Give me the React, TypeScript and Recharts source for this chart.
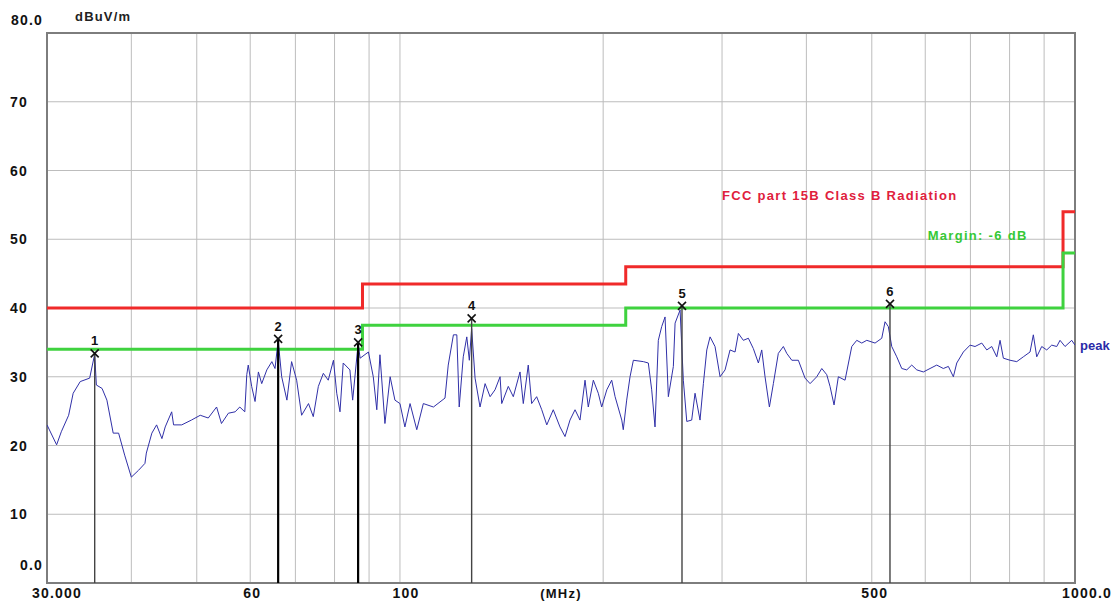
import React from 'react';
import {
  ComposedChart,
  Line,
  XAxis,
  YAxis,
  CartesianGrid,
  ReferenceLine,
  ReferenceDot,
  ReferenceArea,
} from 'recharts';

// measured trace (MHz / dBuV/m)
const traceFreq = [
  30.0, 31.0, 31.5, 32.3, 32.8, 33.6, 34.7, 35.3, 35.5, 36.2, 36.8, 37.6, 38.3, 39.1, 40.0, 41.0,
  41.9, 42.1, 42.9, 43.6, 44.4, 44.9, 45.9, 46.2, 47.5, 49.1, 50.6, 52.0, 53.5, 54.4, 55.7, 57.0,
  57.9, 58.9, 59.3, 59.6, 60.3, 61.0, 61.7, 62.4, 63.5, 64.6, 65.3, 66.0, 66.8, 68.0, 69.1, 70.3,
  71.5, 73.2, 74.4, 75.7, 77.0, 78.3, 79.7, 80.6, 81.5, 82.4, 84.3, 85.1, 86.7, 87.3, 89.8, 91.3,
  92.4, 93.4, 95.0, 96.7, 98.3, 100.0, 101.7, 103.5, 105.9, 108.3, 112.1, 116.6, 117.9, 120.0,
  121.4, 122.4, 124.1, 125.6, 126.7, 127.7, 129.2, 131.4, 133.7, 136.0, 138.3, 140.7, 141.5,
  144.7, 147.2, 150.6, 152.3, 154.9, 156.7, 159.4, 162.2, 165.0, 168.7, 172.6, 175.6, 178.6,
  181.7, 184.8, 188.0, 190.1, 193.4, 196.7, 199.0, 202.5, 205.9, 208.3, 213.1, 214.2, 216.7,
  219.2, 221.7, 229.4, 233.3, 236.0, 238.7, 241.4, 244.2, 247.0, 249.8, 254.1, 255.6, 260.0,
  262.9, 266.0, 270.5, 273.6, 278.3, 281.5, 284.8, 288.0, 292.9, 298.0, 303.1, 308.3, 313.6,
  317.2, 322.6, 328.2, 333.8, 339.6, 343.5, 347.4, 352.6, 357.4, 363.5, 369.8, 374.1, 380.6,
  389.2, 398.2, 405.1, 414.4, 421.6, 428.8, 433.6, 439.6, 446.1, 456.4, 467.0, 475.0, 483.2,
  491.5, 505.6, 517.3, 523.1, 529.0, 535.2, 544.4, 553.8, 563.3, 573.0, 582.9, 596.2, 609.9,
  624.0, 638.2, 649.2, 660.4, 668.1, 683.3, 699.1, 711.1, 727.6, 740.1, 752.8, 765.8, 774.4,
  783.2, 801.3, 819.8, 838.4, 857.8, 867.5, 877.6, 892.7, 908.1, 923.7, 939.6, 950.2, 966.6,
  988.9, 1000,
];
const traceLevel = [
  23.0, 20.1, 22.0, 24.4, 27.6, 29.3, 29.8, 33.3, 28.8, 28.3, 26.6, 21.8, 21.8, 18.6, 15.4, 16.4,
  17.4, 18.9, 21.8, 23.0, 21.0, 22.7, 24.9, 23.0, 23.0, 23.7, 24.4, 24.0, 25.6, 23.2, 24.7, 24.9,
  25.6, 24.9, 30.3, 31.7, 28.6, 26.4, 30.7, 29.0, 31.0, 32.2, 31.2, 35.3, 30.0, 26.6, 32.2, 29.5,
  24.4, 26.1, 24.2, 28.6, 30.5, 29.5, 32.4, 27.6, 24.9, 32.0, 31.0, 26.6, 34.8, 32.7, 33.6, 30.0,
  25.2, 33.2, 23.2, 30.0, 26.6, 26.1, 22.7, 26.1, 22.3, 26.1, 25.6, 26.9, 31.7, 36.1,
  36.1, 25.6, 32.9, 35.8, 32.4, 37.0, 29.8, 25.6, 29.0, 27.1, 28.1, 30.0, 26.1,
  28.6, 27.1, 30.7, 26.1, 31.7, 26.1, 27.1, 25.2, 23.0, 25.2, 22.7, 21.3, 23.7,
  25.2, 23.7, 29.5, 25.6, 29.5, 27.6, 25.6, 28.1, 29.5, 27.1, 23.7, 22.3, 26.6,
  30.0, 32.4, 32.2, 32.0, 28.1, 22.7, 35.3, 37.3, 38.7, 27.1, 31.5, 37.8, 39.7,
  29.5, 23.5, 23.7, 27.6, 23.7, 29.0, 33.9, 35.8, 34.4, 30.0, 31.0, 33.9, 33.6,
  36.3, 35.3, 35.6, 34.1, 32.0, 33.9, 30.0, 25.6, 29.0, 33.4, 34.4, 33.4, 32.4,
  32.4, 29.8, 29.0, 30.0, 31.2, 30.3, 28.6, 25.9, 30.0, 29.5, 34.4, 35.3, 34.9,
  35.3, 34.9, 35.6, 38.0, 37.3, 34.4, 32.9, 31.2, 31.0, 31.7, 31.0, 30.7, 31.2,
  31.7, 31.2, 31.5, 30.0, 32.0, 33.6, 34.6, 34.4, 34.9, 33.9, 34.4, 32.9, 35.3,
  32.7, 32.4, 32.2, 32.9, 33.6, 36.1, 32.9, 34.4, 33.9, 34.6, 34.4, 35.3, 34.4,
  35.3, 34.6,
];

// FCC part 15B class B limit and -6 dB margin
const limitFreq = [30, 88, 88, 216, 216, 960, 960, 1000];
const limitLevel = [40, 40, 43.5, 43.5, 46, 46, 54, 54];
const marginLevel = [34, 34, 37.5, 37.5, 40, 40, 48, 48];

// marked peaks
const markerFreq = [35.3, 66.0, 86.7, 127.7, 261.7, 532.0];
const markerLevel = [33.4, 35.5, 35.0, 38.5, 40.3, 40.6];

const xTicks = [30, 40, 50, 60, 70, 80, 90, 100, 200, 300, 400, 500, 600, 700, 800, 900, 1000];
const xTickLabels: Record<number, string> = { 30: '30.000', 60: '60', 100: '100', 500: '500', 1000: '1000.0' };
const yTicks = [0, 10, 20, 30, 40, 50, 60, 70, 80];
const yTickLabels: Record<number, string> = { 0: '0.0', 80: '80.0' };

const traceData = traceFreq.map((f, i) => ({ f, v: traceLevel[i] }));
const limitData = limitFreq.map((f, i) => ({ f, v: limitLevel[i] }));
const marginData = limitFreq.map((f, i) => ({ f, v: marginLevel[i] }));

const FONT = '"Liberation Sans", Arial, sans-serif';

const XTick = (props: any) => {
  const { x, y, payload } = props;
  const label = xTickLabels[payload.value];
  if (!label) return <g />;
  const shift: Record<number, number> = { 30: 10, 60: 2, 100: 6, 500: 3, 1000: 12 };
  return (
    <text x={x + shift[payload.value]} y={y + 15} textAnchor="middle" fontFamily={FONT}
      fontSize={14} fontWeight="bold" letterSpacing={1.2} fill="#111">
      {label}
    </text>
  );
};

const YTick = (props: any) => {
  const { x, y, payload } = props;
  const label = yTickLabels[payload.value] ?? String(payload.value);
  const wide = label.length > 2;
  const dy = payload.value === 80 ? -13 : payload.value === 0 ? -18 : 0;
  return (
    <text x={wide ? x - 4 : x - 37} y={y + dy + 5} textAnchor={wide ? 'end' : 'start'}
      fontFamily={FONT} fontSize={14} fontWeight="bold" letterSpacing={1.2} fill="#111">
      {label}
    </text>
  );
};

const UnitLabel = (props: any) => {
  const { x, y, width } = props.viewBox;
  return (
    <text x={x + width / 2} y={y + 15} textAnchor="middle" fontFamily={FONT} fontSize={13}
      fontWeight="bold" letterSpacing={1.2} fill="#111">
      (MHz)
    </text>
  );
};

export default function App() {
  return (
    <div style={{ position: 'absolute', left: 0, top: 0, width: 1119, height: 604, background: '#fff' }}>
      <div style={{ position: 'absolute', left: 75, top: 9, fontFamily: FONT, fontSize: 13,
        fontWeight: 'bold', letterSpacing: 1.2, color: '#222' }}>
        dBuV/m
      </div>
      <ComposedChart width={1119} height={604} margin={{ top: 33, right: 44, bottom: 0, left: 0 }}>
        <CartesianGrid stroke="#bdbdbd" strokeWidth={1} />
        <XAxis dataKey="f" type="number" scale="log" domain={[30, 1000]} ticks={xTicks}
          allowDataOverflow height={21} tickSize={0} tickMargin={0} tickLine={false}
          axisLine={false} tick={<XTick />} interval={0}
          label={<UnitLabel />} />
        <YAxis type="number" domain={[0, 80]} ticks={yTicks} width={47} tickSize={0}
          tickMargin={0} tickLine={false} axisLine={false} tick={<YTick />} interval={0} />

        <Line data={limitData} dataKey="v" type="linear" stroke="#f02a2a" strokeWidth={3}
          dot={false} isAnimationActive={false} />
        <Line data={marginData} dataKey="v" type="linear" stroke="#3fd23f" strokeWidth={3}
          dot={false} isAnimationActive={false} />
        <Line data={traceData} dataKey="v" type="linear" stroke="#3030a8" strokeWidth={1}
          dot={false} isAnimationActive={false} />

        {markerFreq.map((f, i) => (
          <ReferenceLine key={'ml' + i} segment={[{ x: f, y: 0 }, { x: f, y: markerLevel[i] }]}
            stroke={i === 1 || i === 2 ? '#000' : '#444'} strokeWidth={i === 1 || i === 2 ? 2.2 : 1.4} />
        ))}
        {markerFreq.map((f, i) => (
          <ReferenceDot key={'md' + i} x={f} y={markerLevel[i]} r={0}
            shape={(p: any) => (
              <g>
                <line x1={p.cx - 4} y1={p.cy - 4} x2={p.cx + 4} y2={p.cy + 4} stroke="#111" strokeWidth={1.6} />
                <line x1={p.cx - 4} y1={p.cy + 4} x2={p.cx + 4} y2={p.cy - 4} stroke="#111" strokeWidth={1.6} />
                <text x={p.cx} y={p.cy - 8} textAnchor="middle" fontFamily={FONT} fontSize={13}
                  fontWeight="bold" fill="#111">{i + 1}</text>
              </g>
            )} />
        ))}

        <ReferenceDot x={300} y={56.4} r={0}
          shape={(p: any) => (
            <text x={p.cx} y={p.cy} dy="0.35em" fontFamily={FONT} fontSize={13} fontWeight="bold"
              letterSpacing={1.3} fill="#e0203c">FCC part 15B Class B Radiation</text>
          )} />
        <ReferenceDot x={605} y={50.5} r={0}
          shape={(p: any) => (
            <text x={p.cx} y={p.cy} dy="0.35em" fontFamily={FONT} fontSize={13} fontWeight="bold"
              letterSpacing={1.3} fill="#36c836">Margin: -6 dB</text>
          )} />
        <ReferenceDot x={1000} y={34.6} r={0} ifOverflow="visible"
          shape={(p: any) => (
            <text x={p.cx + 5} y={p.cy} dy="0.35em" fontFamily={FONT} fontSize={13} fontWeight="bold"
              fill="#2a2aa8">peak</text>
          )} />

        <ReferenceArea x1={30} x2={1000} y1={0} y2={80} fill="none" stroke="#7d7d7d" strokeWidth={2}
          ifOverflow="visible" />
      </ComposedChart>
    </div>
  );
}
